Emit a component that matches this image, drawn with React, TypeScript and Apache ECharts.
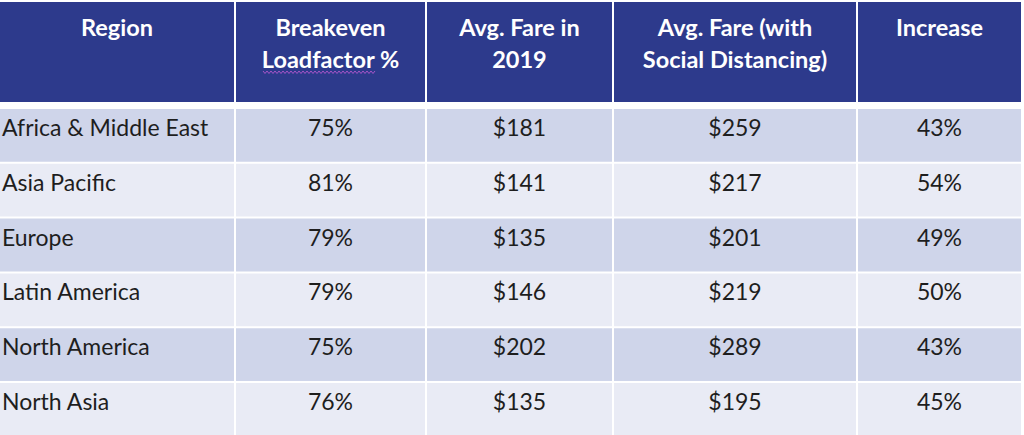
import React, { useEffect, useRef } from "react";
import * as echarts from "echarts";

const headers = ["Region", "Breakeven\nLoadfactor %", "Avg. Fare in\n2019", "Avg. Fare (with\nSocial Distancing)", "Increase"];
const regions = ["Africa & Middle East", "Asia Pacific", "Europe", "Latin America", "North America", "North Asia"];
const breakevenLoadFactor = [75, 81, 79, 79, 75, 76];
const avgFare2019 = [181, 141, 135, 146, 202, 135];
const avgFareSocialDistancing = [259, 217, 201, 219, 289, 195];
const increasePct = [43, 54, 49, 50, 43, 45];

// layout (pixel-like units on the hidden value axes)
const colEdges = [0, 235, 426, 613, 857, 1022];
const headerTop = 2;
const headerBottom = 102;
const bodyTop = 109;
const rowStep = 54.8;
const rowGap = 2;

const FONT = "Lato, 'Open Sans', sans-serif";

function cellText(c: number, r: number): string {
  if (r < 0) return headers[c];
  switch (c) {
    case 0: return regions[r];
    case 1: return breakevenLoadFactor[r] + "%";
    case 2: return "$" + avgFare2019[r];
    case 3: return "$" + avgFareSocialDistancing[r];
    default: return increasePct[r] + "%";
  }
}

export default function App() {
  const ref = useRef<HTMLDivElement>(null);
  useEffect(() => {
    document.body.style.margin = "0";
    const chart = echarts.init(ref.current!, null, { renderer: "svg" });
    const data: number[][] = [];
    for (let r = -1; r < regions.length; r++) {
      for (let c = 0; c < headers.length; c++) data.push([c, r]);
    }
    const squiggle: number[][] = [];
    for (let x = 263, i = 0; x <= 375; x += 2, i++) squiggle.push([x, i % 2 === 0 ? 71 : 73.5]);

    chart.setOption({
      animation: false,
      backgroundColor: "#ffffff",
      grid: { left: 0, right: 0, top: 0, bottom: 0 },
      xAxis: { type: "value", min: 0, max: 1024, show: false },
      yAxis: { type: "value", min: 0, max: 435, inverse: true, show: false },
      series: [
        {
          type: "custom",
          data,
          encode: { x: 0, y: 1 },
          clip: false,
          renderItem: (params: any, api: any) => {
            const c = api.value(0);
            const r = api.value(1);
            const x0 = colEdges[c] + (c === 0 ? 0 : 1);
            const x1 = colEdges[c + 1] - 1;
            let y0: number, y1: number;
            if (r < 0) {
              y0 = headerTop;
              y1 = headerBottom;
            } else {
              y0 = bodyTop + r * rowStep;
              y1 = Math.min(y0 + rowStep - rowGap, 435);
            }
            const p0 = api.coord([x0, y0]);
            const p1 = api.coord([x1, y1]);
            const fill = r < 0 ? "#2D3A8C" : r % 2 === 0 ? "#CFD5EA" : "#E9EBF5";
            const isHeader = r < 0;
            const left = !isHeader && c === 0;
            const tx = left ? p0[0] + 2 : (p0[0] + p1[0]) / 2;
            const ty = isHeader ? p0[1] + 9 : p0[1] + 18;
            return {
              type: "group",
              children: [
                {
                  type: "rect",
                  shape: { x: p0[0], y: p0[1], width: p1[0] - p0[0], height: p1[1] - p0[1] },
                  style: { fill },
                },
                {
                  type: "text",
                  x: tx,
                  y: ty,
                  style: {
                    text: cellText(c, r),
                    fill: isHeader ? "#ffffff" : "#1e1e1e",
                    font: (isHeader ? "bold 23.5px " : "23px ") + FONT,
                    align: left ? "left" : "center",
                    verticalAlign: isHeader ? "top" : "middle",
                    lineHeight: 32,
                  },
                },
              ],
            };
          },
        },
      ],
      graphic: [
        {
          type: "polyline",
          shape: { points: squiggle },
          style: { stroke: "#A855C8", lineWidth: 1, fill: "none" },
          z: 10,
        },
      ],
    });
    return () => chart.dispose();
  }, []);
  return <div ref={ref} style={{ width: 1024, height: 435 }} />;
}
